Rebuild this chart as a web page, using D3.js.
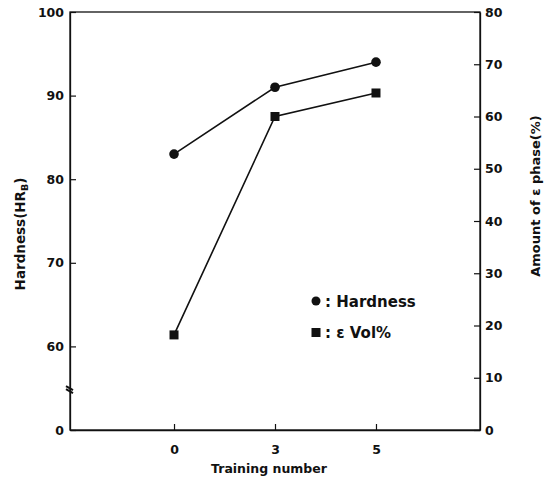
<!DOCTYPE html>
<html>
<head>
<meta charset="utf-8">
<script src="https://cdn.jsdelivr.net/npm/d3@7"></script>
<style>
  html, body { margin: 0; padding: 0; background: #fff; }
  text { font-family: "DejaVu Sans", Arial, sans-serif; font-weight: bold; fill: #111; }
</style>
</head>
<body>
<svg id="chart" width="551" height="485"></svg>
<script>
// Training cycles and measured values
const trainingNumbers = ["0", "3", "5"];
const hardness = [83, 91, 94];          // HRB, left axis
const epsilonVol = [18.2, 60, 64.5];    // ε phase %, right axis

// Left axis has a break: bottom tick reads "0", the rest run 60–100
const leftTickValues = [50, 60, 70, 80, 90, 100];
const leftTickLabels = ["0", "60", "70", "80", "90", "100"];
const rightTickValues = [0, 10, 20, 30, 40, 50, 60, 70, 80];

const svg = d3.select("#chart");
const m = { left: 70, right: 480, top: 12, bottom: 430 };

const x = d3.scalePoint().domain(trainingNumbers).range([m.left, m.right]).padding(1.03);
const yL = d3.scaleLinear().domain([50, 100]).range([m.bottom, m.top]);
const yR = d3.scaleLinear().domain([0, 80]).range([m.bottom, m.top]);

const ink = "#111";
const font = "DejaVu Sans, Arial, sans-serif";

// Frame
svg.append("rect")
  .attr("x", m.left).attr("y", m.top)
  .attr("width", m.right - m.left).attr("height", m.bottom - m.top)
  .attr("fill", "none").attr("stroke", ink).attr("stroke-width", 1.3);

// Left axis (ticks point inward)
const gL = svg.append("g").attr("transform", `translate(${m.left},0)`)
  .call(d3.axisLeft(yL).tickValues(leftTickValues)
    .tickFormat((d, i) => leftTickLabels[i]).tickSizeInner(-6).tickSizeOuter(0).tickPadding(6));
// Right axis
const gR = svg.append("g").attr("transform", `translate(${m.right},0)`)
  .call(d3.axisRight(yR).tickValues(rightTickValues).tickSizeInner(-6).tickSizeOuter(0).tickPadding(5));
// Bottom axis
const gB = svg.append("g").attr("transform", `translate(0,${m.bottom})`)
  .call(d3.axisBottom(x).tickSizeInner(-6).tickSizeOuter(0).tickPadding(15));

[gL, gR, gB].forEach(g => {
  g.select(".domain").attr("stroke", ink).attr("stroke-width", 1.3);
  g.selectAll(".tick line").attr("stroke", ink).attr("stroke-width", 1.2);
  g.selectAll(".tick text")
    .attr("font-family", font)
    .attr("font-weight", "bold").attr("font-size", 12.5)
    .attr("fill", ink);
});

// Axis break marks on the left axis
const by = (yL(50) + yL(60)) / 2 + 1;
svg.append("path")
  .attr("d", `M${m.left - 4},${by - 3} L${m.left + 3},${by + 1} M${m.left - 4},${by} L${m.left + 3},${by + 4}`)
  .attr("stroke", ink).attr("stroke-width", 2).attr("fill", "none");

// Hardness line with circles
svg.append("path")
  .datum(hardness)
  .attr("d", d3.line().x((d, i) => x(trainingNumbers[i])).y(d => yL(d)))
  .attr("fill", "none").attr("stroke", ink).attr("stroke-width", 1.6);
svg.selectAll(".hpt").data(hardness).join("circle")
  .attr("class", "hpt")
  .attr("cx", (d, i) => x(trainingNumbers[i])).attr("cy", d => yL(d))
  .attr("r", 4.8).attr("fill", ink);

// ε phase line with squares
svg.append("path")
  .datum(epsilonVol)
  .attr("d", d3.line().x((d, i) => x(trainingNumbers[i])).y(d => yR(d)))
  .attr("fill", "none").attr("stroke", ink).attr("stroke-width", 1.6);
svg.selectAll(".ept").data(epsilonVol).join("rect")
  .attr("class", "ept")
  .attr("x", (d, i) => x(trainingNumbers[i]) - 4.5).attr("y", d => yR(d) - 4.5)
  .attr("width", 9).attr("height", 9).attr("fill", ink);

// Legend
const lg = svg.append("g").attr("transform", "translate(316,301)");
lg.append("circle").attr("cx", 0).attr("cy", 0).attr("r", 4.5).attr("fill", ink);
lg.append("text").attr("x", 9).attr("y", 5.5).attr("font-size", 15)
  .text(": Hardness");
lg.append("rect").attr("x", -4.5).attr("y", 27).attr("width", 9).attr("height", 9).attr("fill", ink);
lg.append("text").attr("x", 9).attr("y", 37).attr("font-size", 15)
  .text(": ε Vol%");

// Axis titles
svg.append("text")
  .attr("x", 269).attr("y", 473)
  .attr("text-anchor", "middle").attr("font-size", 12.5)
  .text("Training number");

const lt = svg.append("text")
  .attr("transform", "translate(25,234) rotate(-90)")
  .attr("text-anchor", "middle").attr("font-size", 13.5);
lt.append("tspan").text("Hardness(HR");
lt.append("tspan").attr("font-size", 9.5).attr("dy", 3).text("B");
lt.append("tspan").attr("dy", -3).text(")");

svg.append("text")
  .attr("transform", "translate(540,196) rotate(-90)")
  .attr("text-anchor", "middle").attr("font-size", 13)
  .text("Amount of ε phase(%)");
</script>
</body>
</html>
